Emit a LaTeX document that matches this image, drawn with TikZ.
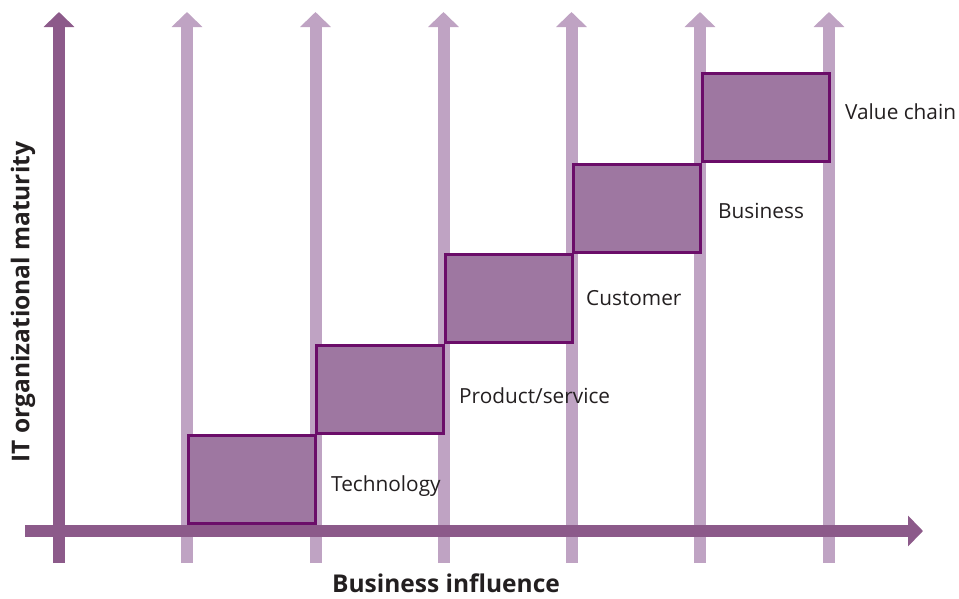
\documentclass[tikz,border=0pt]{standalone}
\usepackage{fontspec}
\setmainfont{Open Sans}
\usetikzlibrary{arrows.meta}
\definecolor{axisc}{HTML}{8C5A8A}
\definecolor{lightc}{HTML}{BFA3C3}
\definecolor{boxfill}{HTML}{9E77A1}
\definecolor{boxline}{HTML}{6B0D69}
\definecolor{txt}{HTML}{231F20}
\tikzset{
  axisarrow/.style={draw=axisc, line width=12pt, -{Triangle[width=30pt,length=15pt]}},
  lightarrow/.style={draw=lightc, line width=12pt, -{Triangle[width=30pt,length=15pt]}},
  stepbox/.style={draw=boxline, fill=boxfill, line width=3pt, minimum width=127pt, minimum height=88pt, inner sep=0pt, outer sep=0pt},
  steplabel/.style={anchor=west, inner sep=0pt, text=txt, font=\fontsize{20.8pt}{24pt}\selectfont},
  axislabel/.style={inner sep=0pt, text=txt, font=\bfseries\fontsize{24.5pt}{28pt}\selectfont}
}
\begin{document}
\begin{tikzpicture}[x=1pt,y=-1pt]
\useasboundingbox (0,0) rectangle (959,598);
% light vertical arrows
\foreach \i/\x in {1/187,2/315.5,3/443.5,4/571.5,5/700,6/829}{
  \coordinate (lb\i) at (\x,563);
  \coordinate (lt\i) at (\x,12);
  \draw[lightarrow] (lb\i) -- (lt\i);
}
% boxes
\node[stepbox] (b1) at (251.5,479.5) {};
\node[stepbox] (b2) at (380,389) {};
\node[stepbox] (b3) at (508.5,298.5) {};
\node[stepbox] (b4) at (637,208) {};
\node[stepbox] (b5) at (765.5,117.5) {};
% main axes
\coordinate (yb) at (59,563);
\coordinate (yt) at (59,12);
\coordinate (xl) at (25,531);
\coordinate (xr) at (923,531);
\draw[axisarrow] (yb) -- (yt);
\draw[axisarrow] (xl) -- (xr);
% labels
\node[steplabel] (t1) at (331,486) {Technology};
\node[steplabel] (t2) at (459,396) {Product/service};
\node[steplabel] (t3) at (586,298) {Customer};
\node[steplabel] (t4) at (718,211) {Business};
\node[steplabel] (t5) at (845,112) {Value chain};
\node[axislabel] (xlab) at (446,583.5) {Business influence};
\node[axislabel, rotate=90] (ylab) at (23,302) {IT organizational maturity};
\end{tikzpicture}
\end{document}
